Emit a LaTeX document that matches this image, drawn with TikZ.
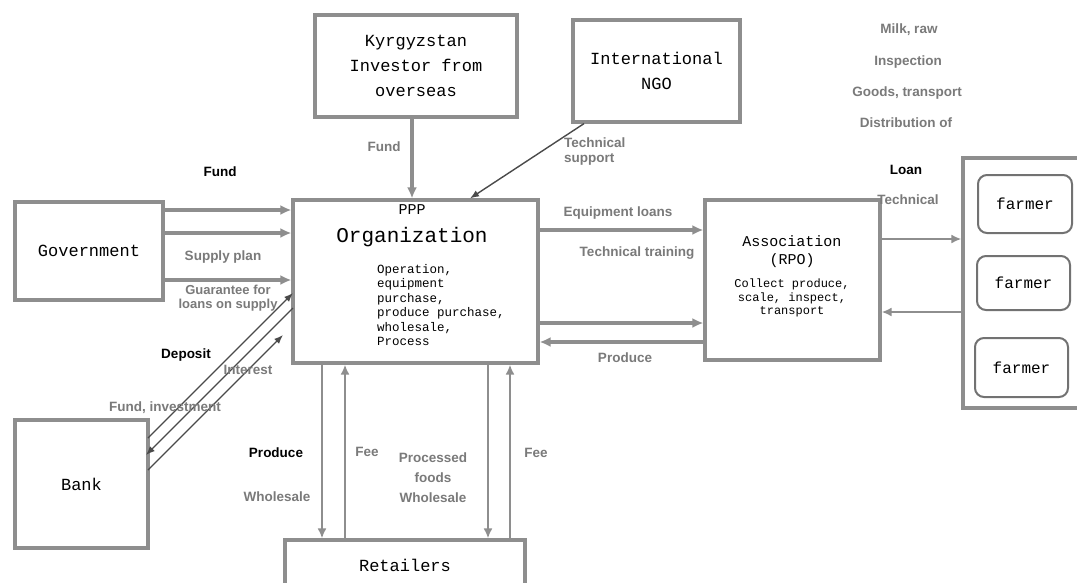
\documentclass[tikz,border=0pt]{standalone}
\usepackage{fontspec}
\setmainfont{Liberation Sans}
\newfontfamily\boxfont{Liberation Mono}
\usetikzlibrary{arrows.meta}
\definecolor{edge}{HTML}{8E8E8E}
\definecolor{lbl}{HTML}{7A7A7A}
\definecolor{dline}{HTML}{4A4A4A}
\begin{document}
\begin{tikzpicture}[x=1pt,y=-1pt,
  box/.style={draw=edge, line width=3.2pt, fill=white, inner sep=0pt, align=center,
    font=\boxfont\fontsize{17}{25}\selectfont},
  farmerbox/.style={draw=edge!80!black, line width=2pt, rounded corners=9pt, fill=white,
    inner sep=0pt, font=\boxfont\fontsize{16}{18}\selectfont},
  arr/.style={draw=edge, line width=3.2pt, -{Latex[length=11pt,width=10pt]}},
  darr/.style={draw=dline, line width=1.4pt, -{Latex[length=9pt,width=7pt]}},
  farr/.style={draw=edge, line width=2.4pt, -{Latex[length=10pt,width=9pt]}},
  glab/.style={font=\bfseries\fontsize{13.5}{15}\selectfont, text=lbl, inner sep=1pt, align=center},
  klab/.style={font=\bfseries\fontsize{13.5}{15}\selectfont, text=black, inner sep=1pt, align=center},
  txt/.style={inner sep=0pt, align=center},
]
\clip (0,0) rectangle (1077,582);
\fill[white] (0,0) rectangle (1077,582);

% boxes
\node[box, minimum width=202pt, minimum height=102pt] (kyrg) at (416,66) {Kyrgyzstan\\Investor from\\overseas};
\node[box, minimum width=167pt, minimum height=102pt] (ngo) at (656.5,71) {International\\NGO};
\node[box, minimum width=148pt, minimum height=98pt] (gov) at (89,251) {Government};
\node[box, minimum width=133pt, minimum height=128pt] (bank) at (81.5,484) {Bank};
\node[box, minimum width=245pt, minimum height=163pt] (org) at (415.5,281.5) {};
\node[txt, font=\boxfont\fontsize{15}{18}\selectfont] (ppp) at (412,210) {PPP};
\node[txt, font=\boxfont\fontsize{21}{24}\selectfont] (orgname) at (412,237) {Organization};
\node[txt, anchor=north west, align=left, font=\boxfont\fontsize{12.5}{14.5}\selectfont] (orgbody) at (377,264)
  {Operation,\\equipment\\purchase,\\produce purchase,\\wholesale,\\Process};
\node[box, minimum width=175pt, minimum height=160pt] (assoc) at (792.5,280) {};
\node[txt, font=\boxfont\fontsize{15}{18}\selectfont] (assocname) at (792,252) {Association\\(RPO)};
\node[txt, font=\boxfont\fontsize{12}{13.5}\selectfont] (assocbody) at (792,298) {Collect produce,\\scale, inspect,\\transport};
\node[box, minimum width=130pt, minimum height=250pt] (farmers) at (1028,283) {};
\node[farmerbox, minimum width=94pt, minimum height=58pt] (f1) at (1025,204) {farmer};
\node[farmerbox, minimum width=93pt, minimum height=54pt] (f2) at (1023.5,283) {farmer};
\node[farmerbox, minimum width=93pt, minimum height=59pt] (f3) at (1021.5,367.5) {farmer};
\node[box, minimum width=240pt, minimum height=62pt] (ret) at (405,571) {};
\node[txt, font=\boxfont\fontsize{17}{20}\selectfont] (retname) at (405,565) {Retailers};

% government -> organization
\draw[arr] (gov.east |- 0,210) -- (org.west |- 0,210);
\draw[arr] (gov.east |- 0,233) -- (org.west |- 0,233);
\draw[arr] (gov.east |- 0,280) -- (org.west |- 0,280);
% investor, NGO -> organization
\draw[arr] (kyrg.south -| 412,0) -- (org.north -| 412,0);
\draw[darr] (ngo.south -| 584,0) -- (org.north -| 470,0);
% bank <-> organization
\coordinate (b1) at (148,438);
\coordinate (o1) at (293,293);
\coordinate (b2) at (148,470);
\coordinate (o2) at (283,335);
\coordinate (b3) at (146,455);
\coordinate (o3) at (293,308);
\draw[darr] (b1) -- (o1);
\draw[darr] (b2) -- (o2);
\draw[darr] (o3) -- (b3);
% organization <-> association
\draw[arr] (org.east |- 0,230) -- (assoc.west |- 0,230);
\draw[arr] (org.east |- 0,323) -- (assoc.west |- 0,323);
\draw[arr] (assoc.west |- 0,342) -- (org.east |- 0,342);
% association <-> farmers
\draw[farr] (assoc.east |- 0,239) -- (farmers.west |- 0,239);
\draw[farr] (farmers.west |- 0,312) -- (assoc.east |- 0,312);
% organization <-> retailers
\draw[farr] (org.south -| 322,0) -- (ret.north -| 322,0);
\draw[farr] (ret.north -| 345,0) -- (org.south -| 345,0);
\draw[farr] (org.south -| 488,0) -- (ret.north -| 488,0);
\draw[farr] (ret.north -| 510,0) -- (org.south -| 510,0);

% labels
\node[klab] (lfund1) at (220,172) {Fund};
\node[glab] (lsupply) at (223,257) {Supply plan};
\node[glab, font=\bfseries\fontsize{13}{13.5}\selectfont] (lguar) at (228,298) {Guarantee for\\loans on supply};
\node[klab] (ldep) at (186,355) {Deposit};
\node[glab] (lint) at (248,370) {Interest};
\node[glab] (lfinv) at (165,408) {Fund, investment};
\node[glab] (lfund2) at (384,147) {Fund};
\node[glab, anchor=west, align=left] (ltsup) at (563,152) {Technical\\support};
\node[glab] (lequip) at (618,213) {Equipment loans};
\node[glab] (ltrain) at (637,253) {Technical training};
\node[glab] (lprod) at (625,358) {Produce};
\node[klab] (lprodw) at (276,453) {Produce};
\node[glab] (lwhole) at (277,497) {Wholesale};
\node[glab] (lfee1) at (367,452) {Fee};
\node[glab] (lfee2) at (536,453) {Fee};
\node[glab, font=\bfseries\fontsize{13.5}{20}\selectfont] (lproc) at (433,478) {Processed\\foods\\Wholesale};
\node[glab] (lmilk) at (909,30) {Milk, raw};
\node[glab] (linsp) at (908,62) {Inspection};
\node[glab] (lgoods) at (907,93) {Goods, transport};
\node[glab] (ldist) at (906,123) {Distribution of};
\node[klab] (lloan) at (906,170) {Loan};
\node[glab] (ltech) at (908,200) {Technical};
\end{tikzpicture}
\end{document}
